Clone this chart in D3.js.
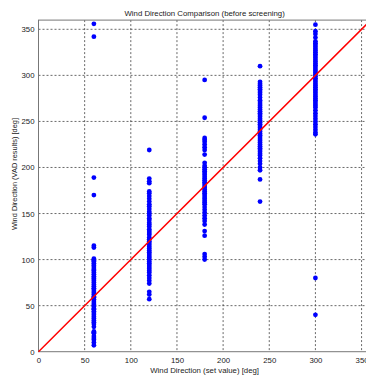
<!DOCTYPE html>
<html><head><meta charset="utf-8">
<script src="https://cdn.jsdelivr.net/npm/d3@7"></script>
<style>
html,body{margin:0;padding:0;background:#fff;overflow:hidden}
text{font-family:"Liberation Sans","DejaVu Sans",sans-serif;fill:#222}
</style></head>
<body><svg id="c" width="366" height="377"></svg>
<script>
const title = "Wind Direction Comparison (before screening)";
const xLabel = "Wind Direction (set value) [deg]";
const yLabel = "Wind Direction (VAD results) [deg]";
const tickValues = [0, 50, 100, 150, 200, 250, 300, 350];
const setValues = [60, 120, 180, 240, 300];
const vad60 = [356, 342, 189, 170, 115, 113, 101, 99, 98, 96, 94, 93, 91, 89, 88, 86, 84, 82, 80, 79, 77, 75, 73, 71, 69, 68, 66, 64, 62, 60, 59, 57, 55, 53, 51, 49, 47, 46, 44, 42, 40, 38, 36, 34, 32, 30, 27, 22, 21, 20, 17, 15, 13, 10, 7];
const vad120 = [219, 188, 185, 183, 174, 172, 169, 166, 163, 160, 158, 155, 152, 150, 148, 145, 143, 140, 138, 136, 133, 131, 129, 127, 124, 122, 120, 118, 116, 114, 112, 110, 108, 106, 104, 102, 100, 98, 96, 94, 92, 90, 88, 86, 83, 80, 77, 74, 65, 62, 57];
const vad180 = [295, 254, 232, 230, 228, 225, 222, 219, 214, 205, 202, 200, 198, 196, 194, 192, 190, 188, 186, 184, 182, 180, 178, 176, 174, 172, 170, 168, 166, 164, 162, 160, 157, 154, 151, 148, 145, 142, 138, 131, 126, 106, 103, 100];
const vad240 = [310, 293, 291, 289, 287, 285, 283, 281, 279, 276, 273, 271, 269, 267, 265, 263, 261, 259, 257, 255, 253, 251, 249, 247, 245, 243, 241, 239, 237, 235, 233, 231, 229, 227, 225, 223, 221, 219, 217, 215, 213, 210, 207, 204, 200, 197, 187, 163];
const vad300 = [355, 348, 345, 341, 337, 335, 333, 331, 329, 327, 325, 323, 321, 319, 317, 315, 313, 311, 309, 307, 305, 303, 301, 299, 297, 295, 293, 291, 289, 287, 285, 283, 281, 279, 277, 275, 273, 271, 269, 267, 265, 262, 259, 256, 253, 250, 247, 244, 241, 238, 236, 80, 40];
const columns = [vad60, vad120, vad180, vad240, vad300];
const refLine = [0, 360];

const svg = d3.select("#c");
const L = 38.5, T = 20.1, R = 370.8, B = 351.7;
const x = d3.scaleLinear().domain([0, 360]).range([L, R]);
const y = d3.scaleLinear().domain([0, 360]).range([B, T]);

svg.append("rect").attr("width",366).attr("height",377).attr("fill","#fff");

// grid
const grid = svg.append("g");
grid.selectAll(".gx").data(tickValues.slice(1)).enter().append("line")
  .attr("x1", d=>x(d)).attr("x2", d=>x(d)).attr("y1", T).attr("y2", B)
  .attr("stroke","#444").attr("stroke-width",0.8).attr("stroke-dasharray","2,2");
grid.selectAll(".gy").data(tickValues.slice(1)).enter().append("line")
  .attr("y1", d=>y(d)).attr("y2", d=>y(d)).attr("x1", L).attr("x2", R)
  .attr("stroke","#444").attr("stroke-width",0.8).attr("stroke-dasharray","2,2");

// axes frame
svg.append("rect").attr("x",L).attr("y",T).attr("width",R-L).attr("height",B-T)
  .attr("fill","none").attr("stroke","#777").attr("stroke-width",1);

// points
const pts = [];
columns.forEach((col,i)=>col.forEach(v=>pts.push([setValues[i], v])));
svg.append("g").selectAll("circle").data(pts).enter().append("circle")
  .attr("cx", d=>x(d[0])).attr("cy", d=>y(d[1])).attr("r", 2.4).attr("fill","#0000ff");

// reference line
svg.append("line").attr("x1", x(refLine[0])).attr("y1", y(refLine[0]))
  .attr("x2", x(refLine[1])).attr("y2", y(refLine[1]))
  .attr("stroke","#ff0000").attr("stroke-width",1.5);

// axes
const xa = svg.append("g").attr("transform",`translate(0,${B})`)
  .call(d3.axisBottom(x).tickValues(tickValues).tickSize(0).tickPadding(6));
const ya = svg.append("g").attr("transform",`translate(${L},0)`)
  .call(d3.axisLeft(y).tickValues(tickValues).tickSize(0).tickPadding(4));
[xa, ya].forEach(a=>{a.select(".domain").remove(); a.selectAll("text").attr("font-size",7.8).attr("font-family","Liberation Sans, sans-serif").attr("fill","#222");});

svg.append("text").attr("x",(L+R)/2).attr("y",16).attr("text-anchor","middle")
  .attr("font-size",7.8).text(title);
svg.append("text").attr("x",(L+R)/2).attr("y",373).attr("text-anchor","middle")
  .attr("font-size",7.8).text(xLabel);
svg.append("text").attr("transform","translate(17,174) rotate(-90)").attr("text-anchor","middle")
  .attr("font-size",7.4).text(yLabel);
</script></body></html>
